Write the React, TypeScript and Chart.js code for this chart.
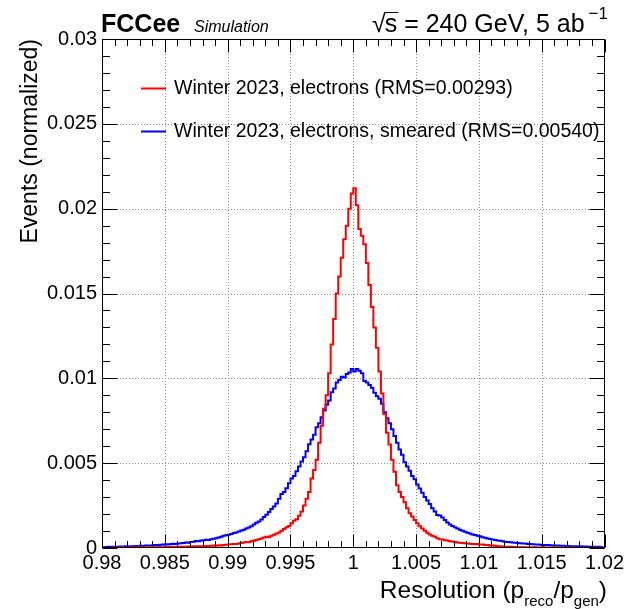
import React, { useEffect, useRef } from "react";
import { Chart, registerables } from "chart.js";

Chart.register(...registerables);

// ---------- data ----------
const X_MIN = 0.98;
const X_MAX = 1.02;
const BIN_WIDTH = 0.0002;
const Y_MIN = 0;
const Y_MAX = 0.03;

const X_TICKS = [0.98, 0.985, 0.99, 0.995, 1, 1.005, 1.01, 1.015, 1.02];
const Y_TICKS = [0, 0.005, 0.01, 0.015, 0.02, 0.025, 0.03];
const MINOR_STEP_X = 0.001;
const MINOR_STEP_Y = 0.001;

const SERIES_LABELS = [
  "Winter 2023, electrons (RMS=0.00293)",
  "Winter 2023, electrons, smeared (RMS=0.00540)",
];
const SERIES_COLORS = ["#ff0000", "#0000ff"];

const X_TITLE_PARTS = ["Resolution (p", "reco", "/p", "gen", ")"];
const Y_TITLE = "Events (normalized)";
const HEADER_LEFT_BOLD = "FCCee";
const HEADER_LEFT_ITALIC = "Simulation";
const HEADER_RIGHT = "s = 240 GeV, 5 ab";
const HEADER_RIGHT_SUP = "\u22121";

// electrons (red), 200 bins of width 0.0002 from 0.98 to 1.02
const RED = [
  0.00002, 0.00001, 0.00002, 0.00002, 0.00001, 0.00003, 0.00002, 0.00002, 0.00003, 0.00002,
  0.00003, 0.00003, 0.00002, 0.00004, 0.00003, 0.00003, 0.00004, 0.00003, 0.00004, 0.00005,
  0.00004, 0.00004, 0.00005, 0.00005, 0.00004, 0.00006, 0.00005, 0.00006, 0.00007, 0.00006,
  0.00007, 0.00008, 0.00007, 0.00008, 0.00009, 0.00008, 0.0001, 0.00009, 0.0001, 0.00011,
  0.0001, 0.00012, 0.00011, 0.00013, 0.00014, 0.00013, 0.00016, 0.00015, 0.00018, 0.00019,
  0.00021, 0.00022, 0.00024, 0.00023, 0.00027, 0.00029, 0.00032, 0.00036, 0.00034, 0.0004,
  0.00043, 0.00047, 0.00052, 0.00056, 0.00062, 0.00066, 0.00064, 0.00072, 0.00078, 0.00085,
  0.00092, 0.00101, 0.00112, 0.00122, 0.0013, 0.00146, 0.0016, 0.0017, 0.0019, 0.00215,
  0.0025, 0.0029, 0.0033, 0.0041, 0.0046, 0.0052, 0.0062, 0.0072, 0.0082, 0.009,
  0.0103, 0.012, 0.0135, 0.015, 0.016, 0.0171, 0.0182, 0.019, 0.02, 0.0209,
  0.0212, 0.0202, 0.0188, 0.0184, 0.0179, 0.0168, 0.0155, 0.0142, 0.013, 0.0118,
  0.0104, 0.0091, 0.0079, 0.0068, 0.0061, 0.0052, 0.0045, 0.0037, 0.0033, 0.003,
  0.0027, 0.00235, 0.00205, 0.00185, 0.00165, 0.00146, 0.00128, 0.00115, 0.00102, 0.0009,
  0.0008, 0.00072, 0.00066, 0.00058, 0.00052, 0.0005, 0.00045, 0.00044, 0.0004, 0.00038,
  0.00035, 0.00033, 0.00031, 0.00029, 0.00028, 0.00026, 0.00025, 0.00024, 0.00022, 0.00023,
  0.00021, 0.0002, 0.00018, 0.00017, 0.00015, 0.00014, 0.00013, 0.00011, 0.0001, 0.00009,
  0.00008, 0.00008, 0.00007, 0.00006, 0.00006, 0.00005, 0.00005, 0.00004, 0.00005, 0.00004,
  0.00004, 0.00003, 0.00004, 0.00003, 0.00003, 0.00004, 0.00003, 0.00002, 0.00003, 0.00003,
  0.00002, 0.00003, 0.00002, 0.00003, 0.00002, 0.00002, 0.00003, 0.00002, 0.00002, 0.00001,
  0.00002, 0.00002, 0.00001, 0.00002, 0.00002, 0.00001, 0.00002, 0.00001, 0.00002, 0.00001,
];

// electrons smeared (blue)
const BLUE = [
  0.00006, 0.00005, 0.00007, 0.00006, 0.00008, 0.00007, 0.00008, 0.00009, 0.00008, 0.0001,
  0.00009, 0.00011, 0.0001, 0.00012, 0.00011, 0.00013, 0.00012, 0.00014, 0.00015, 0.00014,
  0.00016, 0.00017, 0.00016, 0.00019, 0.0002, 0.00022, 0.00021, 0.00024, 0.00025, 0.00024,
  0.00027, 0.00028, 0.0003, 0.00032, 0.00031, 0.00035, 0.00037, 0.00041, 0.0004, 0.00044,
  0.00046, 0.00048, 0.00047, 0.00052, 0.00054, 0.00058, 0.00062, 0.00066, 0.00072, 0.00075,
  0.00078, 0.00083, 0.00088, 0.00091, 0.00097, 0.00103, 0.00108, 0.00115, 0.00121, 0.00128,
  0.00138, 0.00149, 0.00156, 0.00168, 0.00182, 0.00196, 0.00212, 0.0023, 0.00245, 0.00262,
  0.0029, 0.00318, 0.0033, 0.00352, 0.00381, 0.0041, 0.00425, 0.00452, 0.0048, 0.0051,
  0.00535, 0.0057, 0.00612, 0.0064, 0.00668, 0.00712, 0.00735, 0.0077, 0.0081, 0.00845,
  0.0087, 0.00918, 0.0094, 0.00975, 0.0099, 0.0101, 0.01005, 0.01025, 0.01035, 0.01055,
  0.0104, 0.01055, 0.01045, 0.0103, 0.00985, 0.00975, 0.0096, 0.00945, 0.00915, 0.00895,
  0.0088, 0.0085, 0.008, 0.00765, 0.00735, 0.007, 0.0066, 0.0062, 0.0058, 0.0055,
  0.00505, 0.0048, 0.00455, 0.00425, 0.00405, 0.00375, 0.0035, 0.00325, 0.003, 0.0028,
  0.0026, 0.00235, 0.00215, 0.00195, 0.00192, 0.0018, 0.00165, 0.0015, 0.00138, 0.0013,
  0.00122, 0.00115, 0.00108, 0.00102, 0.00096, 0.0009, 0.00086, 0.0008, 0.00077, 0.00072,
  0.00069, 0.00064, 0.0006, 0.00056, 0.00053, 0.0005, 0.00047, 0.00044, 0.00042, 0.0004,
  0.00037, 0.00036, 0.00034, 0.00032, 0.00031, 0.0003, 0.00028, 0.00027, 0.00026, 0.00024,
  0.00023, 0.00022, 0.00021, 0.0002, 0.00019, 0.00018, 0.00017, 0.00017, 0.00016, 0.00015,
  0.00015, 0.00014, 0.00013, 0.00013, 0.00012, 0.00012, 0.00011, 0.00011, 0.0001, 0.0001,
  0.0001, 0.00009, 0.00009, 0.00008, 0.00008, 0.00007, 0.00008, 0.00007, 0.00006, 0.00006,
];

// ---------- style ----------
const FONT = "'Liberation Sans', Arial, Helvetica, sans-serif";
const W = 627;
const H = 609;

const toPoints = (vals: number[]) =>
  vals.map((v, i) => ({ x: X_MIN + (i + 0.5) * BIN_WIDTH, y: v }));

const rootStyle = {
  id: "rootStyle",
  beforeDatasetsDraw(chart: any) {
    const { ctx, chartArea: a, scales } = chart;
    const x = scales.x;
    const y = scales.y;
    ctx.save();
    ctx.strokeStyle = "#8c8c8c";
    ctx.lineWidth = 1;
    ctx.setLineDash([1, 2]);
    for (const v of X_TICKS) {
      const px = Math.round(x.getPixelForValue(v)) + 0.5;
      if (px <= a.left + 1 || px >= a.right - 1) continue;
      ctx.beginPath();
      ctx.moveTo(px, a.top);
      ctx.lineTo(px, a.bottom);
      ctx.stroke();
    }
    for (const v of Y_TICKS) {
      const py = Math.round(y.getPixelForValue(v)) + 0.5;
      if (py <= a.top + 1 || py >= a.bottom - 1) continue;
      ctx.beginPath();
      ctx.moveTo(a.left, py);
      ctx.lineTo(a.right, py);
      ctx.stroke();
    }
    ctx.restore();
  },
  afterDatasetsDraw(chart: any) {
    const { ctx, chartArea: a, scales } = chart;
    const x = scales.x;
    const y = scales.y;
    ctx.save();
    ctx.setLineDash([]);
    ctx.strokeStyle = "#000";
    ctx.lineWidth = 1;
    // frame
    const L = Math.round(a.left) + 0.5;
    const R = Math.round(a.right) - 0.5;
    const T = Math.round(a.top) + 0.5;
    const B = Math.round(a.bottom) - 0.5;
    ctx.strokeRect(L, T, R - L, B - T);
    // x ticks (bottom and top)
    const nx = Math.round((X_MAX - X_MIN) / MINOR_STEP_X);
    for (let i = 0; i <= nx; i++) {
      const v = X_MIN + i * MINOR_STEP_X;
      const major = i % 5 === 0;
      const len = major ? 13 : 6.5;
      const px = Math.round(x.getPixelForValue(v)) + 0.5;
      ctx.beginPath();
      ctx.moveTo(px, B);
      ctx.lineTo(px, B - len);
      ctx.moveTo(px, T);
      ctx.lineTo(px, T + len);
      ctx.stroke();
    }
    const ny = Math.round((Y_MAX - Y_MIN) / MINOR_STEP_Y);
    for (let i = 0; i <= ny; i++) {
      const v = Y_MIN + i * MINOR_STEP_Y;
      const major = i % 5 === 0;
      const len = major ? 15 : 7.5;
      const py = Math.round(y.getPixelForValue(v)) + 0.5;
      ctx.beginPath();
      ctx.moveTo(L, py);
      ctx.lineTo(L + len, py);
      ctx.moveTo(R, py);
      ctx.lineTo(R - len, py);
      ctx.stroke();
    }

    ctx.fillStyle = "#000";
    ctx.textBaseline = "alphabetic";

    // header left
    ctx.textAlign = "left";
    ctx.font = `bold 25px ${FONT}`;
    ctx.fillText(HEADER_LEFT_BOLD, 101, 32);
    ctx.font = `italic 16px ${FONT}`;
    ctx.fillText(HEADER_LEFT_ITALIC, 194, 32);

    // header right: sqrt(s) = ..., with superscript
    const mainFont = `25px ${FONT}`;
    const supFont = `17px ${FONT}`;
    ctx.font = mainFont;
    const mainW = ctx.measureText(HEADER_RIGHT).width;
    const radW = ctx.measureText("\u221A").width;
    const sW = ctx.measureText("s").width;
    ctx.font = supFont;
    const supW = ctx.measureText(HEADER_RIGHT_SUP).width;
    const endX = 608;
    const supX = endX - supW;
    const mainX = supX - 4 - mainW;
    const radX = mainX - radW + 1;
    ctx.font = mainFont;
    ctx.fillText("\u221A", radX, 32);
    ctx.fillText(HEADER_RIGHT, mainX, 32);
    ctx.beginPath();
    ctx.moveTo(radX + radW - 1, 12.5);
    ctx.lineTo(mainX + sW + 1, 12.5);
    ctx.stroke();
    ctx.font = supFont;
    ctx.fillText(HEADER_RIGHT_SUP, supX, 19);

    // legend
    const ds = chart.data.datasets;
    const rows = [88, 131];
    ds.forEach((d: any, i: number) => {
      const yy = rows[i] + 0.5;
      ctx.strokeStyle = d.borderColor;
      ctx.lineWidth = 2;
      ctx.beginPath();
      ctx.moveTo(141, yy);
      ctx.lineTo(166, yy);
      ctx.stroke();
      ctx.fillStyle = "#000";
      ctx.font = `19.5px ${FONT}`;
      ctx.textAlign = "left";
      ctx.textBaseline = "middle";
      ctx.fillText(d.label, 174, rows[i] + 1);
    });

    // x title with subscripts, right-aligned
    ctx.textBaseline = "alphabetic";
    ctx.textAlign = "left";
    const big = `24.5px ${FONT}`;
    const small = `15px ${FONT}`;
    const parts = X_TITLE_PARTS.map((t, i) => ({ t, sub: i % 2 === 1 }));
    let total = 0;
    for (const p of parts) {
      ctx.font = p.sub ? small : big;
      total += ctx.measureText(p.t).width;
    }
    let cx = 607 - total;
    const base = 598;
    for (const p of parts) {
      ctx.font = p.sub ? small : big;
      ctx.fillText(p.t, cx, p.sub ? base + 8 : base);
      cx += ctx.measureText(p.t).width;
    }

    // y title rotated, aligned to top of axis
    ctx.save();
    ctx.translate(37, a.top);
    ctx.rotate(-Math.PI / 2);
    ctx.font = `23px ${FONT}`;
    ctx.textAlign = "right";
    ctx.fillText(Y_TITLE, 0, 0);
    ctx.restore();

    ctx.restore();
  },
};

export default function App() {
  const ref = useRef<HTMLCanvasElement | null>(null);
  useEffect(() => {
    document.body.style.margin = "0";
    const canvas = ref.current;
    if (!canvas) return;
    const chart = new Chart(canvas, {
      type: "line",
      data: {
        datasets: [
          {
            label: SERIES_LABELS[0],
            data: toPoints(RED),
            borderColor: SERIES_COLORS[0],
            borderWidth: 2,
            stepped: "middle",
            pointRadius: 0,
            fill: false,
          },
          {
            label: SERIES_LABELS[1],
            data: toPoints(BLUE),
            borderColor: SERIES_COLORS[1],
            borderWidth: 2,
            stepped: "middle",
            pointRadius: 0,
            fill: false,
          },
        ],
      },
      options: {
        responsive: false,
        animation: false,
        devicePixelRatio: 1,
        layout: { padding: { top: 39, right: 22, left: 0, bottom: 0 } },
        plugins: {
          legend: { display: false },
          tooltip: { enabled: false },
          title: { display: false },
        },
        scales: {
          x: {
            type: "linear",
            min: X_MIN,
            max: X_MAX,
            afterBuildTicks: (s: any) => {
              s.ticks = X_TICKS.map((v) => ({ value: v }));
            },
            afterFit: (s: any) => {
              s.height = 61;
            },
            ticks: {
              color: "#000",
              font: { family: FONT, size: 20 },
              padding: 3,
              maxRotation: 0,
              autoSkip: false,
              callback: (v: any) => String(v),
            },
            grid: { display: false, drawTicks: false },
            border: { display: false },
          },
          y: {
            type: "linear",
            min: Y_MIN,
            max: Y_MAX,
            afterBuildTicks: (s: any) => {
              s.ticks = Y_TICKS.map((v) => ({ value: v }));
            },
            afterFit: (s: any) => {
              s.width = 102;
            },
            ticks: {
              color: "#000",
              font: { family: FONT, size: 20 },
              padding: 5,
              autoSkip: false,
              callback: (v: any) => String(v),
            },
            grid: { display: false, drawTicks: false },
            border: { display: false },
          },
        },
      },
      plugins: [rootStyle],
    });
    return () => chart.destroy();
  }, []);
  return (
    <div style={{ width: W, height: H, background: "#fff" }}>
      <canvas ref={ref} width={W} height={H} style={{ display: "block" }} />
    </div>
  );
}
